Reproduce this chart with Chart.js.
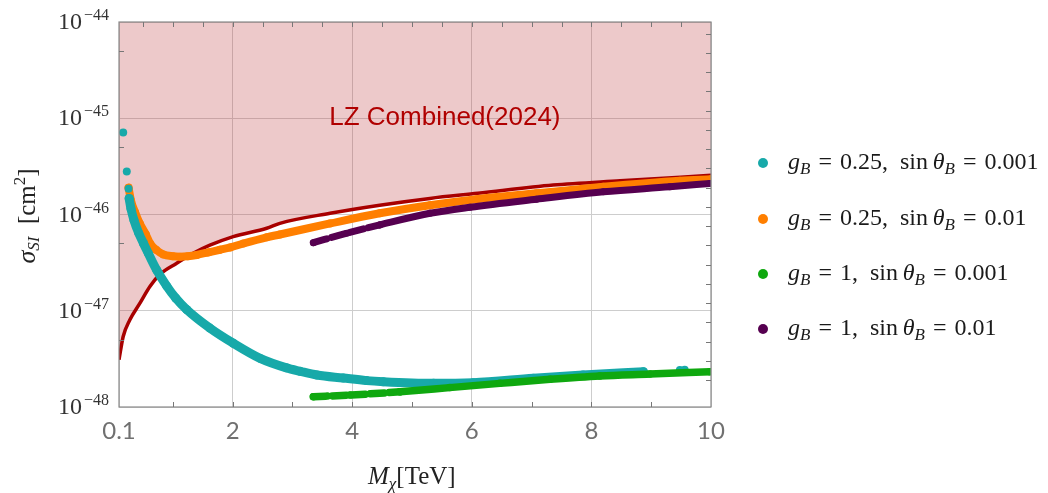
<!DOCTYPE html>
<html>
<head>
<meta charset="utf-8">
<script src="https://cdn.jsdelivr.net/npm/chart.js@4.4.1/dist/chart.umd.min.js"></script>
<style>
  html, body { margin: 0; padding: 0; background: #fff; }
  #wrap { position: relative; width: 1048px; height: 493px; }
  #legend { position: absolute; left: 0; top: 0; font-family: 'Liberation Serif', serif; font-size: 24px; color: #1a1a1a; }
  .item { position: absolute; left: 758px; white-space: nowrap; display: flex; align-items: center; height: 30px; }
  .dot { width: 10px; height: 10px; border-radius: 50%; margin-right: 20px; }
  .item sub { font-size: 17px; vertical-align: -5px; }
  .eq { margin: 0 8px; }
</style>
</head>
<body>
<div id="wrap">
  <canvas id="chart" width="1048" height="493"></canvas>
  <div id="legend"></div>
</div>
<script>
// mass axis (TeV) and cross sections (cm^2)
const xTicks = [0.1, 2, 4, 6, 8, 10];
const xTickLabels = ['0.1', '2', '4', '6', '8', '10'];
const yExponents = [-48, -47, -46, -45, -44];

// LZ combined (2024) exclusion limit
const lzMass  = [0.1, 0.17, 0.28, 0.45, 0.62, 0.79, 1.06, 1.34, 1.62, 2.01, 2.57, 2.79, 3.63, 4.46, 5.3, 6.1, 7.36, 8.48, 10];
const lzSigma = [3.1e-48, 5.4e-48, 8.0e-48, 1.2e-47, 1.8e-47, 2.4e-47, 3.1e-47, 3.95e-47, 4.8e-47, 5.9e-47, 7.2e-47, 8.1e-47, 1.03e-46, 1.25e-46, 1.47e-46, 1.66e-46, 2.02e-46, 2.24e-46, 2.55e-46];
const lzLabel = 'LZ Combined(2024)';

// g_B = 0.25, sin(theta_B) = 0.001
const cyanMass  = [0.27, 0.30, 0.35, 0.43, 0.51, 0.59, 0.73, 0.90, 1.05, 1.23, 1.62, 2.01, 2.46, 2.9, 3.13, 3.41, 3.85, 4.24, 4.52, 5.36, 6.02, 7.03, 7.86, 8.87];
const cyanSigma = [1.47e-46, 1.15e-46, 8.75e-47, 6.4e-47, 5.0e-47, 3.95e-47, 2.65e-47, 1.8e-47, 1.35e-47, 1.03e-47, 6.6e-48, 4.6e-48, 3.2e-48, 2.55e-48, 2.35e-48, 2.15e-48, 2.0e-48, 1.88e-48, 1.83e-48, 1.76e-48, 1.79e-48, 1.99e-48, 2.15e-48, 2.33e-48];
const cyanDotMass  = [0.17, 0.23, 0.26, 9.48, 9.56];
const cyanDotSigma = [7.1e-46, 2.8e-46, 1.85e-46, 2.42e-48, 2.44e-48];

// g_B = 0.25, sin(theta_B) = 0.01
const orangeMass  = [0.26, 0.30, 0.37, 0.45, 0.55, 0.62, 0.72, 0.84, 1.0, 1.12, 1.25, 1.4, 1.6, 1.79, 1.96, 2.18, 2.57, 2.79, 3.63, 4.46, 5.3, 6.08, 7.08, 8.2, 9.48, 10];
const orangeSigma = [1.9e-46, 1.4e-46, 1.05e-46, 8.0e-47, 6.2e-47, 5.0e-47, 4.3e-47, 3.85e-47, 3.68e-47, 3.64e-47, 3.68e-47, 3.8e-47, 4.05e-47, 4.3e-47, 4.55e-47, 5.0e-47, 5.8e-47, 6.2e-47, 8.07e-47, 1.03e-46, 1.25e-46, 1.44e-46, 1.66e-46, 1.94e-46, 2.24e-46, 2.32e-46];

// g_B = 1, sin(theta_B) = 0.001
const greenMass  = [3.35, 3.96, 4.80, 5.63, 6.47, 7.31, 8.14, 8.98, 9.98];
const greenSigma = [1.28e-48, 1.33e-48, 1.44e-48, 1.59e-48, 1.76e-48, 1.94e-48, 2.1e-48, 2.2e-48, 2.33e-48];

// g_B = 1, sin(theta_B) = 0.01
const purpleMass  = [3.35, 3.91, 4.46, 5.3, 5.97, 7.08, 8.2, 9.31, 9.98];
const purpleSigma = [5.1e-47, 6.4e-47, 7.8e-47, 1.03e-46, 1.19e-46, 1.44e-46, 1.72e-46, 1.94e-46, 2.1e-46];

const colors = { lz: '#a80000', cyan: '#17a9a9', orange: '#ff7f00', green: '#0fa80f', purple: '#560050' };

const legendItems = [
  { color: colors.cyan,   g: '0.25', s: '0.001' },
  { color: colors.orange, g: '0.25', s: '0.01' },
  { color: colors.green,  g: '1',    s: '0.001' },
  { color: colors.purple, g: '1',    s: '0.01' }
];

const pts = (xs, ys) => xs.map((v, i) => ({ x: v, y: ys[i] }));

// dashed look where the scan points are sparse
const sparseDash = c => (c.p0.parsed.x < 4.4 ? [14, 5] : undefined);

function band(data, color, width, order, extra) {
  return Object.assign({
    data, order,
    borderColor: color,
    backgroundColor: color,
    borderWidth: width,
    pointRadius: width / 2,
    pointBorderWidth: 0,
    cubicInterpolationMode: 'monotone',
    borderCapStyle: 'round',
    borderJoinStyle: 'round',
    fill: false
  }, extra || {});
}

const datasets = [
  {
    data: pts(lzMass, lzSigma), order: 6,
    borderColor: colors.lz, borderWidth: 3.5,
    backgroundColor: 'rgba(190,60,66,0.28)',
    fill: 'end', pointRadius: 0,
    cubicInterpolationMode: 'monotone'
  },
  band(pts(orangeMass, orangeSigma), colors.orange, 8, 5),
  band(pts(purpleMass, purpleSigma), colors.purple, 7, 4, { segment: { borderDash: sparseDash } }),
  band(pts(cyanMass, cyanSigma), colors.cyan, 9, 3),
  { data: pts(cyanDotMass, cyanDotSigma), order: 3, showLine: false, pointRadius: 4, pointBorderWidth: 0, backgroundColor: colors.cyan },
  band(pts(greenMass, greenSigma), colors.green, 7.5, 2, { segment: { borderDash: sparseDash } })
];

// frame, inward ticks, annotation and axis text
const decor = {
  id: 'decor',
  afterDatasetsDraw(chart) {
    const { ctx, chartArea: a, scales: { x, y } } = chart;
    ctx.save();
    ctx.fillStyle = '#b00000';
    ctx.font = '26px "Liberation Sans", Arial, sans-serif';
    ctx.textAlign = 'center';
    ctx.textBaseline = 'middle';
    ctx.fillText(lzLabel, x.getPixelForValue(5.55), y.getPixelForValue(1e-45));

    ctx.strokeStyle = '#8a8a8a';
    ctx.lineWidth = 1.2;
    ctx.strokeRect(a.left, a.top, a.right - a.left, a.bottom - a.top);

    ctx.strokeStyle = '#777';
    ctx.lineWidth = 1;
    ctx.beginPath();
    for (let v = 1; v < 10; v++) {
      const px = Math.round(x.getPixelForValue(v)) + 0.5;
      ctx.moveTo(px, a.bottom); ctx.lineTo(px, a.bottom - 5);
    }
    for (let v = 0.5; v < 10; v += 0.5) {
      const px = Math.round(x.getPixelForValue(v)) + 0.5;
      ctx.moveTo(px, a.top); ctx.lineTo(px, a.top + 5);
    }
    yExponents.forEach(e => {
      if (e === -44) return;
      const py = Math.round(y.getPixelForValue(5 * Math.pow(10, e))) + 0.5;
      ctx.moveTo(a.left, py); ctx.lineTo(a.left + 5, py);
    });
    for (let k = 1; k < 20; k++) {
      const py = Math.round(y.getPixelForValue(Math.pow(10, -44 - 0.2 * k + 0.08))) + 0.5;
      ctx.moveTo(a.right, py); ctx.lineTo(a.right - 5, py);
    }
    ctx.stroke();
    ctx.restore();
  },
  afterDraw(chart) {
    const { ctx, chartArea: a, scales: { x, y } } = chart;
    ctx.save();
    // x tick labels
    ctx.fillStyle = '#707070';
    ctx.font = '24px Lato, sans-serif';
    ctx.textAlign = 'center';
    ctx.textBaseline = 'alphabetic';
    xTicks.forEach((v, i) => ctx.fillText(xTickLabels[i], x.getPixelForValue(v), a.bottom + 32));

    // y tick labels 10^e
    ctx.fillStyle = '#333';
    yExponents.forEach(e => {
      const py = y.getPixelForValue(Math.pow(10, e));
      const sup = '\u2212' + String(-e);
      ctx.font = '16px "Liberation Serif", serif';
      const ws = ctx.measureText(sup).width + 2;
      ctx.textAlign = 'left';
      ctx.fillText(sup, a.left - 10 - ws + 2, py - 2);
      ctx.font = '24px "Liberation Serif", serif';
      ctx.textAlign = 'right';
      ctx.fillText('10', a.left - 10 - ws, py + 7);
    });

    // y axis title: sigma_SI [cm^2]
    const partsY = [
      { t: '\u03c3', f: 'italic 26px "Liberation Serif", serif', dy: 0 },
      { t: 'SI', f: 'italic 17px "Liberation Serif", serif', dy: 4 },
      { t: '  [cm', f: '25px "Liberation Serif", serif', dy: 0 },
      { t: '2', f: '17px "Liberation Serif", serif', dy: -10 },
      { t: ']', f: '25px "Liberation Serif", serif', dy: 0 }
    ];
    ctx.save();
    ctx.translate(35, 216);
    ctx.rotate(-Math.PI / 2);
    let total = 0;
    partsY.forEach(p => { ctx.font = p.f; p.w = ctx.measureText(p.t).width; total += p.w; });
    let cx = -total / 2;
    ctx.textAlign = 'left';
    ctx.fillStyle = '#222';
    partsY.forEach(p => { ctx.font = p.f; ctx.fillText(p.t, cx, p.dy); cx += p.w; });
    ctx.restore();

    // x axis title: M_chi [TeV]
    const partsX = [
      { t: 'M', f: 'italic 25px "Liberation Serif", serif', dy: 0 },
      { t: '\u03c7', f: 'italic 17px "Liberation Serif", serif', dy: 5 },
      { t: '[TeV]', f: '25px "Liberation Serif", serif', dy: 0 }
    ];
    let tx = 368;
    ctx.fillStyle = '#222';
    ctx.textAlign = 'left';
    partsX.forEach(p => { ctx.font = p.f; ctx.fillText(p.t, tx, 484 + p.dy); tx += ctx.measureText(p.t).width; });
    ctx.restore();
  }
};

new Chart(document.getElementById('chart'), {
  type: 'line',
  data: { datasets },
  options: {
    responsive: false,
    animation: false,
    layout: { padding: { left: 119, top: 22, right: 337, bottom: 86 } },
    plugins: { legend: { display: false }, tooltip: { enabled: false } },
    scales: {
      x: {
        type: 'linear', min: 0.1, max: 10,
        afterBuildTicks: s => { s.ticks = xTicks.map(v => ({ value: v })); },
        ticks: { display: false },
        grid: { color: '#cdcdcd', lineWidth: 1, drawTicks: false },
        border: { display: false }
      },
      y: {
        type: 'logarithmic', min: 1e-48, max: 1e-44,
        afterBuildTicks: s => { s.ticks = yExponents.map(e => ({ value: Math.pow(10, e) })); },
        ticks: { display: false },
        grid: { color: '#cdcdcd', lineWidth: 1, drawTicks: false },
        border: { display: false }
      }
    }
  },
  plugins: [decor]
});

// legend with subscripted symbols
const rowsY = [163, 219, 274, 329];
document.getElementById('legend').innerHTML = legendItems.map((it, i) =>
  `<div class="item" style="top:${rowsY[i] - 15}px"><span class="dot" style="background:${it.color}"></span>` +
  `<span><i>g</i><sub><i>B</i></sub><span class="eq">=</span>${it.g},&nbsp; sin&thinsp;<i>θ</i><sub><i>B</i></sub><span class="eq">=</span>${it.s}</span></div>`
).join('');
</script>
</body>
</html>
